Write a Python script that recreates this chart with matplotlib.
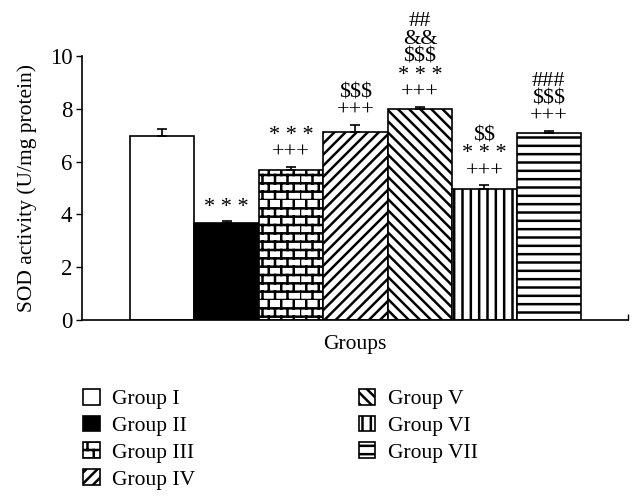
import warnings
import numpy as np
import matplotlib
matplotlib.use("Agg")
import matplotlib.pyplot as plt
from matplotlib import hatch as mhatch
from matplotlib.path import Path

warnings.filterwarnings("ignore")

# Data
groups = ["Group I", "Group II", "Group III", "Group IV", "Group V", "Group VI", "Group VII"]
sod = [6.97, 3.66, 5.68, 7.12, 7.98, 4.96, 7.08]
sod_err = [0.28, 0.10, 0.13, 0.28, 0.10, 0.14, 0.08]
marks = [
    "",
    "* * *",
    "* * *\n+++",
    "\\$\\$\\$\n+++",
    "##\n&&\n\\$\\$\\$\n* * *\n+++",
    "\\$\\$\n* * *\n+++",
    "###\n\\$\\$\\$\n+++",
]


# brick hatch (not built into matplotlib), used with the character 'b'
class BrickHatch(mhatch.HatchPatternBase):
    def __init__(self, hatch, density):
        c = hatch.count('b')
        self.ny = 6 * c
        self.nx = 8 * c
        self.num_vertices = (self.ny * 4 + self.ny * self.nx * 4) if c else 0

    def set_vertices_and_codes(self, vertices, codes):
        k = 0
        for i in range(self.ny):
            for y in (i / self.ny, (i + 0.5) / self.ny):
                vertices[k] = (0.0, y)
                vertices[k + 1] = (1.0, y)
                codes[k] = Path.MOVETO
                codes[k + 1] = Path.LINETO
                k += 2
            for j in range(self.nx):
                x0 = j / self.nx
                x1 = (j + 0.5) / self.nx
                vertices[k] = (x0, i / self.ny)
                vertices[k + 1] = (x0, (i + 0.5) / self.ny)
                vertices[k + 2] = (x1, (i + 0.5) / self.ny)
                vertices[k + 3] = (x1, (i + 1) / self.ny)
                codes[k] = Path.MOVETO
                codes[k + 1] = Path.LINETO
                codes[k + 2] = Path.MOVETO
                codes[k + 3] = Path.LINETO
                k += 4


mhatch._hatch_types.append(BrickHatch)

plt.rcParams['font.family'] = ['Liberation Serif', 'DejaVu Serif']
plt.rcParams['font.size'] = 15.5
plt.rcParams['hatch.linewidth'] = 1.8
plt.rcParams['hatch.color'] = 'black'

colors = ['white', 'black', 'white', 'white', 'white', 'white', 'white']
hatches = [None, None, 'b', '///', '\\\\\\', '||', '--']

fig = plt.figure(figsize=(6.43, 5.04), dpi=100)
ax = fig.add_axes([0.1275, 0.365, 0.8492, 0.524])

x = np.arange(len(groups))
bars = ax.bar(x, sod, width=1.0, color=colors, edgecolor='black', linewidth=1.2,
              label=groups)
for b, h in zip(bars, hatches):
    if h:
        b.set_hatch(h)

ax.errorbar(x, sod, yerr=[np.zeros(len(sod)), sod_err], fmt='none', ecolor='black',
            elinewidth=1.2, capsize=3.5, capthick=1.2)

for xi, v, e, m in zip(x, sod, sod_err, marks):
    if m:
        ax.annotate(m, (xi, v + e), xytext=(0, 3), textcoords='offset points',
                    ha='center', va='bottom', fontsize=16, linespacing=0.92)

ax.set_xlim(-1.245, 7.23)
ax.set_ylim(0, 10)
ax.set_yticks([0, 2, 4, 6, 8, 10])
ax.tick_params(axis='y', direction='out', length=4, width=1, pad=3, labelsize=16.5)
ax.set_xticks([7.23])
ax.set_xticklabels([''])
ax.tick_params(axis='x', direction='in', length=4, width=1)
for s in ['top', 'right']:
    ax.spines[s].set_visible(False)
for s in ['left', 'bottom']:
    ax.spines[s].set_linewidth(1.2)

ax.set_xlabel('Groups', labelpad=7)
ax.set_ylabel('SOD activity (U/mg protein)', labelpad=9)

fig.legend(handles=list(bars), labels=groups, loc='upper left',
           bbox_to_anchor=(0.113, 0.250), ncol=2, frameon=False, borderpad=0,
           handlelength=0.75, handleheight=0.75, handletextpad=0.6,
           labelspacing=0.3, columnspacing=7.6, fontsize=15.5)

fig.savefig('out.png', dpi=100)
